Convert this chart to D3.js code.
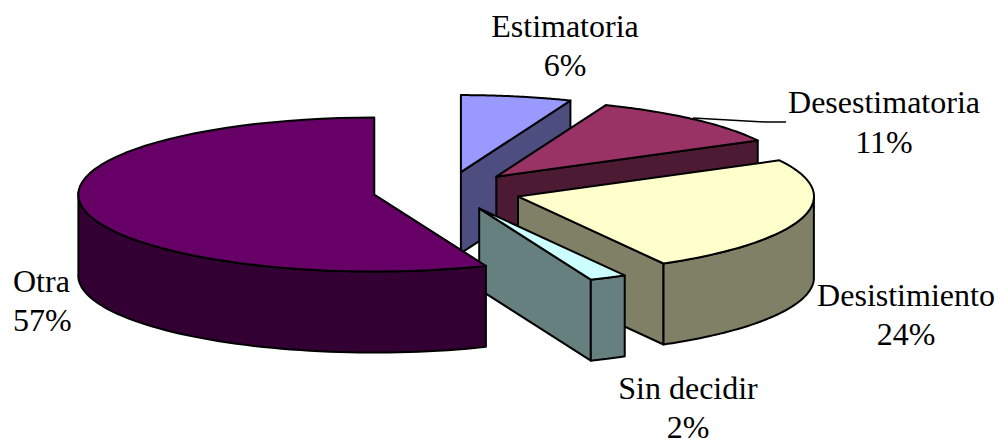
<!DOCTYPE html>
<html>
<head>
<meta charset="utf-8">
<script src="https://cdn.jsdelivr.net/npm/d3@7"></script>
<style>
  html, body { margin: 0; padding: 0; background: #fff; }
  svg { display: block; }
  text { font-family: "Liberation Serif", serif; font-size: 32px; fill: #000; }
</style>
</head>
<body>
<div id="chart"></div>
<script>
// Data
var categories = ["Estimatoria", "Desestimatoria", "Desistimiento", "Sin decidir", "Otra"];
var values = [6, 11, 24, 2, 57];
var topColors = ["#9999ff", "#993366", "#ffffcc", "#ccffff", "#660066"];
var wallColors = ["#4d4d80", "#4d1a33", "#808066", "#668080", "#330033"];

var width = 998, height = 439;
var cx = 447, cy = 191;      // pie center before the slices are pulled out
var rx = 296, ry = 77;       // ellipse radii of the top face
var depth = 81;              // height of the walls
var explode = 0.25;          // pull out, as a share of the radius
var skew = 3.2 * Math.PI / 180; // the old 3D view stretches the front angles a little

var svg = d3.select("#chart")
  .append("svg")
    .attr("width", width)
    .attr("height", height);

var pie = d3.pie().value(function(d) { return d; }).sort(null);
var arcs = pie(values);

var xScale = d3.scaleLinear().domain([-1, 1]).range([-rx, rx]);
var yScale = d3.scaleLinear().domain([-1, 1]).range([ry, -ry]);
var line = d3.line();

function warp(a) { return a + skew * (1 - Math.cos(a)) / 2; }

// point on the rim of a slice, z pushes it down by the wall height
function rim(o, a, z) {
  return [o[0] + xScale(Math.sin(warp(a))), o[1] + yScale(Math.cos(warp(a))) + z];
}

function rimPoints(o, a0, a1, z) {
  var n = 60;
  return d3.range(n + 1).map(function(i) { return rim(o, a0 + (a1 - a0) * i / n, z); });
}

function draw(points, fill) {
  svg.append("path")
    .attr("d", line(points) + "Z")
    .attr("fill", fill)
    .attr("stroke", "#000")
    .attr("stroke-width", 2)
    .attr("stroke-linejoin", "round");
}

function drawSlice(d, i) {
  var mid = warp((d.startAngle + d.endAngle) / 2);
  var o = [cx + xScale(Math.sin(mid)) * explode, cy + yScale(Math.cos(mid)) * explode];
  var wall = wallColors[i];

  // the cut face at the end angle looks to the viewer on the right half
  if (d.endAngle < Math.PI) {
    var e = rim(o, d.endAngle, 0);
    draw([o, e, [e[0], e[1] + depth], [o[0], o[1] + depth]], wall);
  }

  // outer wall, front half only
  var a0 = Math.max(d.startAngle, Math.PI / 2);
  var a1 = Math.min(d.endAngle, 3 * Math.PI / 2);
  if (a1 > a0) {
    draw(rimPoints(o, a0, a1, 0).concat(rimPoints(o, a1, a0, depth)), wall);
  }

  // top face
  draw([o].concat(rimPoints(o, d.startAngle, d.endAngle, 0)), topColors[i]);
}

// back to front
arcs.forEach(drawSlice);

// Leader line of the Desestimatoria label
svg.append("path")
  .attr("d", line([[693, 118], [766, 122], [786, 122]]))
  .attr("fill", "none")
  .attr("stroke", "#000")
  .attr("stroke-width", 1.5);

// Labels, name and percent on two lines
var labelPos = [
  {x: 565, y: 37, dy: 39, anchor: "middle"},
  {x: 884, y: 113, dy: 40, anchor: "middle"},
  {x: 906, y: 306, dy: 39, anchor: "middle"},
  {x: 688, y: 399, dy: 39, anchor: "middle"},
  {x: 13, y: 292, dy: 39, anchor: "start"}
];

categories.forEach(function(c, i) {
  var p = labelPos[i];
  svg.append("text").attr("x", p.x).attr("y", p.y).attr("text-anchor", p.anchor).text(c);
  svg.append("text").attr("x", p.x).attr("y", p.y + p.dy).attr("text-anchor", p.anchor).text(values[i] + "%");
});
</script>
</body>
</html>
